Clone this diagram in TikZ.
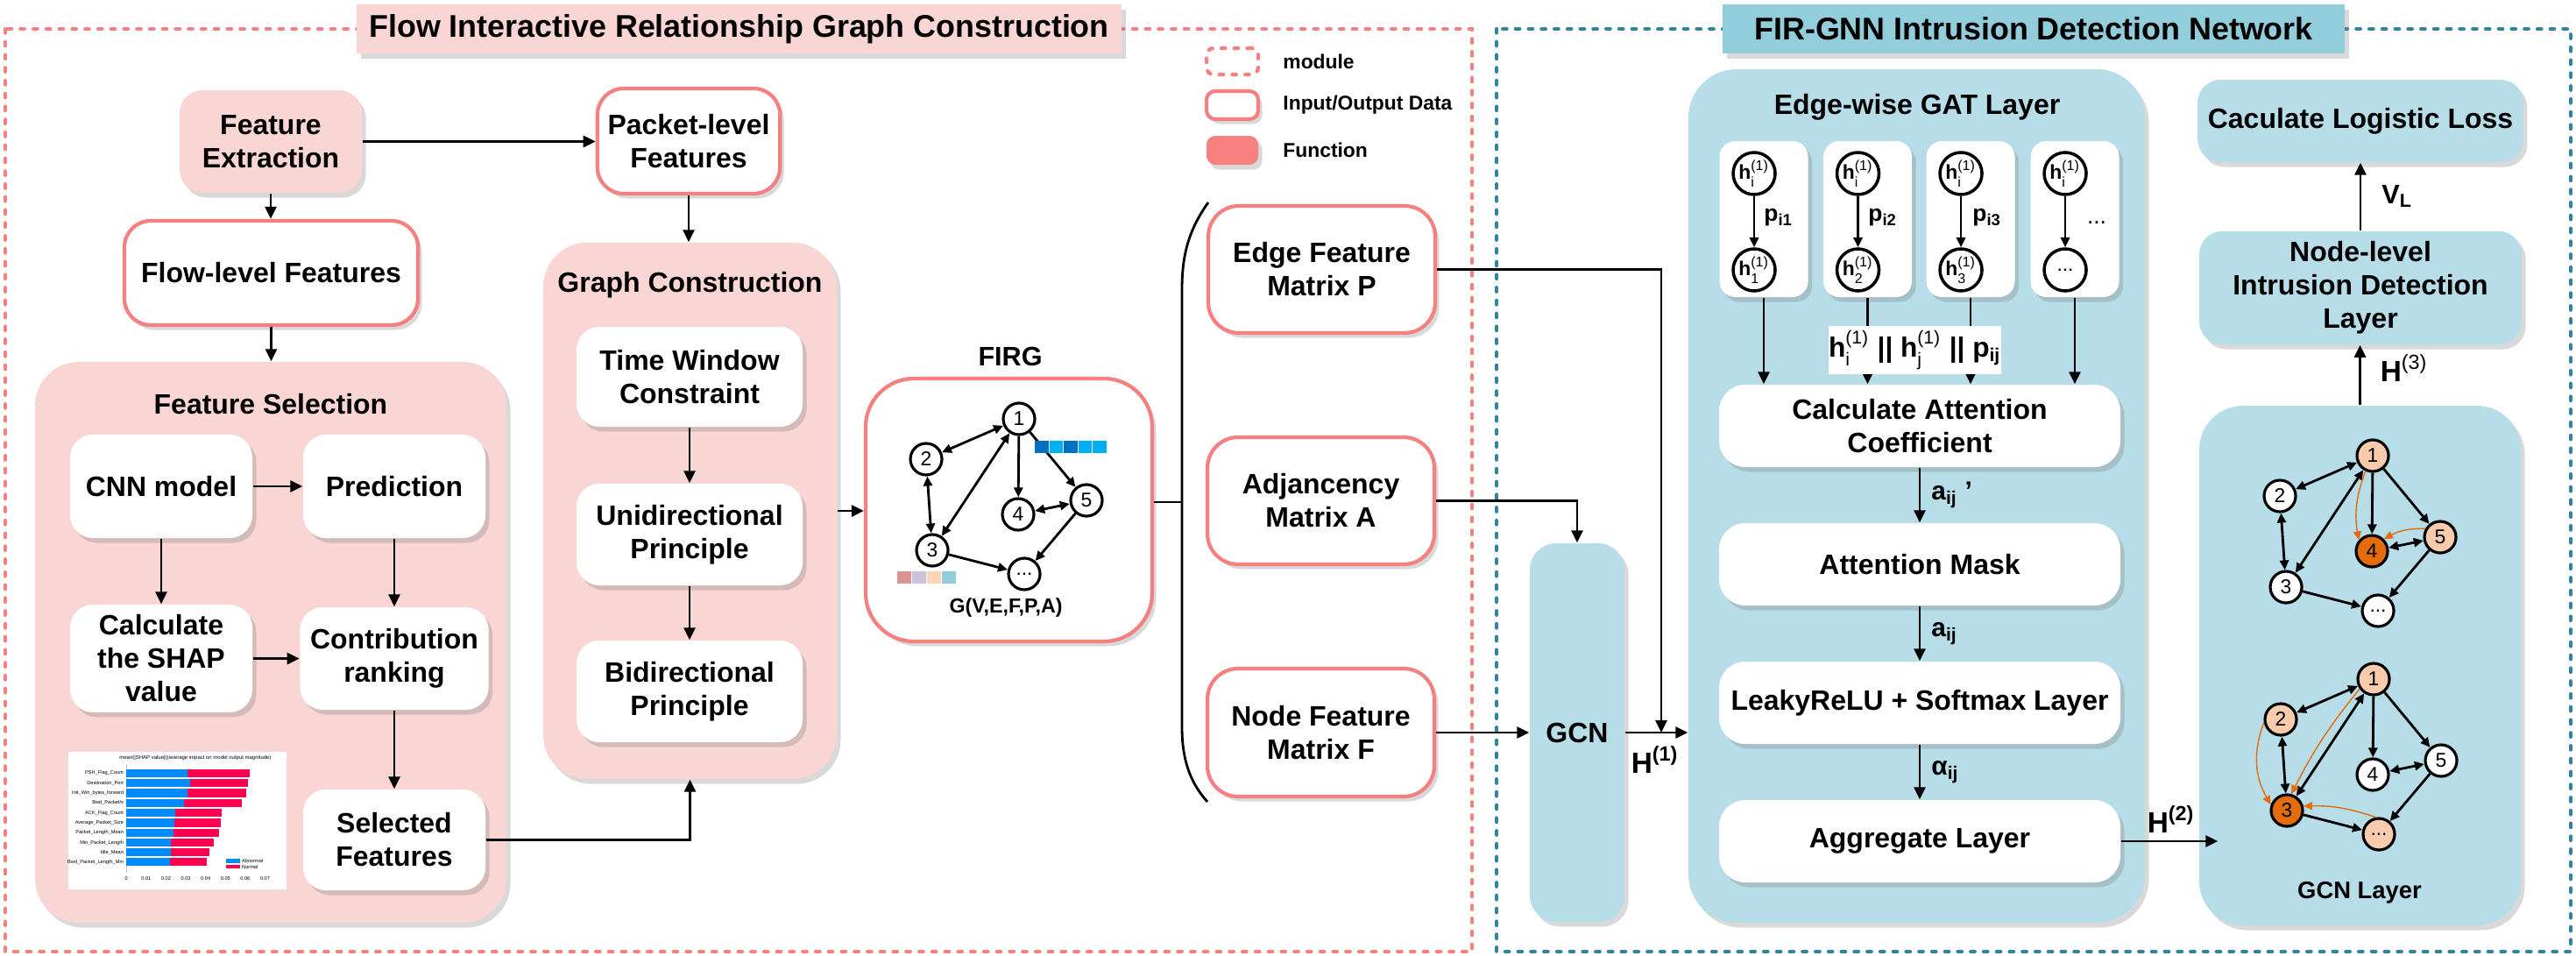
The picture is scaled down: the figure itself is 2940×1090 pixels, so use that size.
\documentclass[tikz,border=0pt]{standalone}
\usepackage{fontspec}
\setmainfont{Liberation Sans}
\usepackage{amsmath}
\usetikzlibrary{arrows.meta,shadows}

\definecolor{pinkline}{RGB}{245,128,128}
\definecolor{pinkfill}{RGB}{249,213,211}
\definecolor{funcfill}{RGB}{247,129,129}
\definecolor{tealline}{RGB}{49,132,155}
\definecolor{tealfill}{RGB}{146,205,220}
\definecolor{lblue}{RGB}{183,221,232}
\definecolor{peach}{RGB}{248,203,173}
\definecolor{dorange}{RGB}{228,108,10}
\definecolor{shapblue}{RGB}{0,139,251}
\definecolor{shapred}{RGB}{255,0,81}
\definecolor{sqdark}{RGB}{0,112,192}
\definecolor{sqlight}{RGB}{0,176,240}
\definecolor{pa}{RGB}{217,149,148}
\definecolor{pb}{RGB}{204,192,218}
\definecolor{pc}{RGB}{251,213,181}
\definecolor{pd}{RGB}{146,205,220}

\newcommand{\hsup}[1]{h$^{\text{\mdseries(1)}}_{\text{\mdseries #1}}$}
\newcommand{\lsub}[2]{#1$_{\text{#2}}$}

\begin{document}
\begin{tikzpicture}[
	x=0.1mm, y=-0.1mm,
	shad/.style={drop shadow={shadow xshift=0.45mm,shadow yshift=-0.55mm,opacity=0.3}},
	txt/.style={font=\bfseries\fontsize{9.1}{10.8}\selectfont,align=center},
	ttl/.style={shad,minimum height=5.6mm,inner sep=0pt,font=\bfseries\fontsize{10.2}{12}\selectfont},
	func/.style={txt,shad,fill=pinkfill,rounded corners=2.6mm},
	iodata/.style={txt,shad,fill=white,draw=pinkline,line width=1.2pt,rounded corners=3mm},
	cont/.style={shad,fill=pinkfill,rounded corners=5mm},
	bcont/.style={shad,fill=lblue,rounded corners=5.5mm},
	wbox/.style={txt,shad,fill=white,rounded corners=2.6mm},
	lbox/.style={txt,shad,fill=lblue,rounded corners=2.6mm},
	arr/.style={-{Triangle[length=1.4mm,width=1.3mm]},line width=0.8pt},
	garr/.style={-{Triangle[length=1.1mm,width=1mm]},line width=0.8pt},
	gbi/.style={{Triangle[length=1.1mm,width=1mm]}-{Triangle[length=1.1mm,width=1mm]},line width=0.8pt},
	oarr/.style={-{Triangle[length=1mm,width=0.9mm]},draw=dorange,line width=0.4pt},
	gnode/.style={circle,draw,line width=0.9pt,fill=white,minimum size=3.6mm,inner sep=0pt,font=\fontsize{6.5}{7}\selectfont},
	hnode/.style={circle,draw,line width=1pt,fill=white,minimum size=4.8mm,inner sep=0pt,font=\bfseries\fontsize{6.5}{7}\selectfont},
	lab/.style={font=\bfseries\fontsize{8.5}{10}\selectfont,inner sep=0pt},
	tiny/.style={inner sep=0pt,font=\fontsize{1.6}{2}\selectfont},
	pinkdash/.style={draw=pinkline,line width=1.2pt,line cap=round,dash pattern=on 1.3pt off 2.9pt},
	tealdash/.style={draw=tealline,line width=1.2pt,line cap=round,dash pattern=on 1.3pt off 2.9pt}
	]
	\useasboundingbox (0,0) rectangle (2940,1090);

	% module frames and titles
	\draw[pinkdash] (6,33) rectangle (1680,1086);
	\draw[tealdash] (1708,33) rectangle (2934,1086);
	\path (843.5,33) node[ttl,fill=pinkfill,minimum width=87.3mm] (titleL) {Flow Interactive Relationship Graph Construction};
	\path (2321,33) node[ttl,fill=tealfill,minimum width=71mm] (titleR) {FIR-GNN Intrusion Detection Network};

	% legend
	\path (1406.5,70) node[pinkdash,rounded corners=0.8mm,minimum width=5.9mm,minimum height=3mm] (lgmod) {};
	\path (1406.5,120) node[shad,fill=white,draw=pinkline,line width=1.2pt,rounded corners=1mm,minimum width=5.9mm,minimum height=3.2mm] (lgio) {};
	\path (1406.5,171.5) node[shad,fill=funcfill,rounded corners=1mm,minimum width=5.9mm,minimum height=3.3mm] (lgfun) {};
	\path (1452,70) node[anchor=west,font=\bfseries\fontsize{6.5}{8}\selectfont] (lgmodt) {module};
	\path (1452,120) node[anchor=west,font=\bfseries\fontsize{6.5}{8}\selectfont] (lgiot) {Input/Output Data};
	\path (1452,171.5) node[anchor=west,font=\bfseries\fontsize{6.5}{8}\selectfont] (lgfunt) {Function};

	% feature extraction part
	\path (309,161.5) node[func,minimum width=20.8mm,minimum height=11.7mm] (fe) {Feature\\Extraction};
	\path (786,161) node[iodata,minimum width=20.8mm,minimum height=12mm] (pkt) {Packet-level\\Features};
	\path (309.5,311.5) node[iodata,minimum width=33.5mm,minimum height=11.9mm] (flow) {Flow-level Features};
	\draw[arr] (fe.east) -- (fe.east -| pkt.west);
	\draw[arr] (fe.south) -- (fe.south |- flow.north);

	% feature selection
	\path (309,733) node[cont,minimum width=53.8mm,minimum height=64mm] (fs) {};
	\path (309,461) node[txt] (fstitle) {Feature Selection};
	\path (184,555) node[wbox,minimum width=20.8mm,minimum height=11.8mm] (cnn) {CNN model};
	\path (450,555) node[wbox,minimum width=20.8mm,minimum height=11.8mm] (pred) {Prediction};
	\path (184,751.5) node[wbox,minimum width=20.8mm,minimum height=11.7mm] (shap) {Calculate\\the SHAP\\value};
	\path (450,751.5) node[wbox,minimum width=20.8mm,minimum height=11.7mm] (contrib) {Contribution\\ranking};
	\path (450,958.5) node[wbox,minimum width=20.8mm,minimum height=11.5mm] (sel) {Selected\\Features};
	\draw[arr] (flow.south) -- (flow.south |- fs.north);
	\draw[arr] (cnn) -- (pred);
	\draw[arr] (cnn) -- (shap);
	\draw[arr] (pred) -- (contrib);
	\draw[arr] (shap) -- (contrib);
	\draw[arr] (contrib) -- (sel);

	% shap chart
	\fill[white] (78,858) rectangle (327,1015);
	\path (223,865) node[tiny,font=\fontsize{1.7}{2}\selectfont] (charttitle) {mean(|SHAP value|)(average impact on model output magnitude)};
	\draw[gray!50,line width=0.2pt] (144.3,872) -- (144.3,996);
	\foreach \yy/\bb/\rr/\nn [count=\i] in {882.3/214.3/285/{PSH\_Flag\_Count},893.7/216.7/282.7/{Destination\_Port},905/214.3/280.7/{Init\_Win\_bytes\_forward},916.3/210/276/{Bwd\_Packet/s},927.7/200/253.3/{ACK\_Flag\_Count},939/198.7/252.3/{Average\_Packet\_Size},950.3/197.7/250/{Packet\_Length\_Mean},961.7/195/244.3/{Min\_Packet\_Length},972.7/195/238.7/{Idle\_Mean},983.7/194/236.3/{Bwd\_Packet\_Length\_Min}}{
		\fill[shapblue] (144.3,\yy-4.6) rectangle (\bb,\yy+4.6);
		\fill[shapred] (\bb,\yy-4.6) rectangle (\rr,\yy+4.6);
		\path (141.7,\yy) node[tiny,anchor=east] (shapl\i) {\nn};
	}
	\foreach \k/\t in {0/0,1/0.01,2/0.02,3/0.03,4/0.04,5/0.05,6/0.06,7/0.07}
		\path (144.3+22.6*\k,1002.7) node[tiny] (tick\k) {\t};
	\fill[shapblue] (257.7,980) rectangle (274,984.7);
	\fill[shapred] (257.7,986.7) rectangle (274,991.3);
	\path (275.5,982.3) node[tiny,anchor=west] (lgab) {Abnormal};
	\path (275.5,989) node[tiny,anchor=west] (lgno) {Normal};

	% graph construction
	\path (787.5,583) node[cont,minimum width=33.5mm,minimum height=61.2mm] (gc) {};
	\path (787.5,325) node[txt] (gctitle) {Graph Construction};
	\path (787,430) node[wbox,minimum width=25.8mm,minimum height=11.4mm] (tw) {Time Window\\Constraint};
	\path (787,610) node[wbox,minimum width=25.8mm,minimum height=11.6mm] (uni) {Unidirectional\\Principle};
	\path (787,789) node[wbox,minimum width=25.8mm,minimum height=11.6mm] (bi) {Bidirectional\\Principle};
	\draw[arr] (pkt.south) -- (pkt.south |- gc.north);
	\draw[arr] (tw) -- (uni);
	\draw[arr] (uni) -- (bi);
	\draw[arr] (sel.east) -| (gc.south);

	% FIRG
	\path (1153,407) node[font=\bfseries\fontsize{8.7}{10}\selectfont] (firgt) {FIRG};
	\path (1151.5,582) node[iodata,rounded corners=5.5mm,minimum width=32.7mm,minimum height=30mm] (firg) {};
	\draw[arr] (gc.east) -- (gc.east -| firg.west);
	\path (1163,478) node[gnode] (f1) {1};
	\path (1057,524) node[gnode] (f2) {2};
	\path (1064,628) node[gnode] (f3) {3};
	\path (1162,587) node[gnode] (f4) {4};
	\path (1240,571) node[gnode] (f5) {5};
	\path (1169,655) node[gnode] (fd) {...};
	\draw[gbi] (f1) -- (f2);
	\draw[gbi] (f1) -- (f3);
	\draw[garr] (f1) -- (f4);
	\draw[garr] (f1) -- (f5);
	\draw[gbi] (f2) -- (f3);
	\draw[gbi] (f4) -- (f5);
	\draw[garr] (f3) -- (fd);
	\draw[garr] (f5) -- (fd);
	\foreach \i/\c in {0/sqdark,1/sqlight,2/sqdark,3/sqlight,4/sqlight}
		\fill[\c] (1181+16.5*\i,503) rectangle +(15.5,14);
	\foreach \i/\c in {0/pa,1/pb,2/pc,3/pd}
		\fill[\c] (1024+17*\i,652) rectangle +(16,14);
	\path (1148,693) node[font=\bfseries\fontsize{6.6}{8}\selectfont] (gname) {G(V,E,F,P,A)};

	% matrices
	\draw[line width=0.8pt] (1379,231) .. controls (1357,262) and (1349,290) .. (1349,330) -- (1349,830) .. controls (1349,870) and (1360,895) .. (1378,915);
	\coordinate (brace) at (1349,573);
	\draw[line width=0.8pt] (firg.east |- brace) -- (brace);
	\path (1508.5,307.5) node[iodata,rounded corners=3.5mm,minimum width=25.9mm,minimum height=14.5mm] (edgeP) {Edge Feature\\Matrix P};
	\path (1507.5,571.5) node[iodata,rounded corners=3.5mm,minimum width=25.9mm,minimum height=14.5mm] (adjA) {Adjancency\\Matrix A};
	\path (1507.5,836) node[iodata,rounded corners=3.5mm,minimum width=25.9mm,minimum height=14.6mm] (nodeF) {Node Feature\\Matrix F};

	% GCN
	\path (1800,836) node[lbox,rounded corners=3mm,minimum width=10.8mm,minimum height=43.2mm] (gcn) {GCN};
	\draw[arr] (adjA.east) -| (gcn.north);
	\draw[arr] (nodeF.east) -- (gcn.west);

	% edge-wise GAT layer
	\path (2187.5,566) node[bcont,minimum width=52.1mm,minimum height=97.4mm] (gat) {};
	\path (2188,122) node[txt] (gattitle) {Edge-wise GAT Layer};
	\draw[arr] (gcn.east) -- (gcn.east -| gat.west);
	\path (1889,867) node[lab,font=\bfseries\fontsize{9.5}{11}\selectfont] (h1) {H$^{\text{(1)}}$};
	\coordinate (hjoin) at (1896,836);
	\draw[arr] (edgeP.east) -| (hjoin);

	\path (2013,250) node[wbox,rounded corners=1.8mm,minimum width=10.1mm,minimum height=17.8mm] (sb1) {};
	\path (2131.5,250) node[wbox,rounded corners=1.8mm,minimum width=10.1mm,minimum height=17.8mm] (sb2) {};
	\path (2249,250) node[wbox,rounded corners=1.8mm,minimum width=10.1mm,minimum height=17.8mm] (sb3) {};
	\path (2368,250) node[wbox,rounded corners=1.8mm,minimum width=10.1mm,minimum height=17.8mm] (sb4) {};
	\path (2002,198) node[hnode] (t1) {\hsup{i}};
	\path (2120.5,198) node[hnode] (t2) {\hsup{i}};
	\path (2238,198) node[hnode] (t3) {\hsup{i}};
	\path (2357,198) node[hnode] (t4) {\hsup{i}};
	\path (2002,308) node[hnode] (u1) {\hsup{1}};
	\path (2120.5,308) node[hnode] (u2) {\hsup{2}};
	\path (2238,308) node[hnode] (u3) {\hsup{3}};
	\path (2357,308) node[hnode] (u4) {\mdseries ...};
	\draw[garr] (t1) -- (u1);
	\draw[garr] (t2) -- (u2);
	\draw[garr] (t3) -- (u3);
	\draw[garr] (t4) -- (u4);
	\path (2030,248) node[lab,font=\bfseries\fontsize{7.5}{9}\selectfont] (p1) {\lsub{p}{i1}};
	\path (2149,248) node[lab,font=\bfseries\fontsize{7.5}{9}\selectfont] (p2) {\lsub{p}{i2}};
	\path (2268,248) node[lab,font=\bfseries\fontsize{7.5}{9}\selectfont] (p3) {\lsub{p}{i3}};
	\path (2393,254) node[lab,font=\fontsize{7.5}{9}\selectfont] (p4) {...};

	\path (2191,486) node[wbox,rounded corners=3mm,minimum width=45.8mm,minimum height=9.4mm] (cac) {Calculate Attention\\Coefficient};
	\path (2191,644) node[wbox,rounded corners=3mm,minimum width=45.8mm,minimum height=9.4mm] (mask) {Attention Mask};
	\path (2191,802) node[wbox,rounded corners=3mm,minimum width=45.8mm,minimum height=9.4mm] (leaky) {LeakyReLU + Softmax Layer};
	\path (2191,960) node[wbox,rounded corners=3mm,minimum width=45.8mm,minimum height=9.4mm] (agg) {Aggregate Layer};
	\draw[arr] (sb1.south) -- (sb1.south |- cac.north);
	\draw[arr] (sb2.south) -- (sb2.south |- cac.north);
	\draw[arr] (sb3.south) -- (sb3.south |- cac.north);
	\draw[arr] (sb4.south) -- (sb4.south |- cac.north);
	\path (2185.5,399.5) node[fill=white,minimum width=16.7mm,minimum height=5.5mm,inner sep=0pt,font=\bfseries\fontsize{9}{10}\selectfont] (cat) {\hsup{i} || \hsup{j} || \lsub{p}{ij}};
	\draw[arr] (cac) -- node[lab,right,xshift=1.2mm] (aij1) {a$_{\text{ij}}$ '} (mask);
	\draw[arr] (mask) -- node[lab,right,xshift=1.2mm] (aij2) {a$_{\text{ij}}$} (leaky);
	\draw[arr] (leaky) -- node[lab,right,xshift=1.2mm] (alij) {α$_{\text{ij}}$} (agg);

	% GCN layer and detection
	\path (2693.5,759.5) node[bcont,rounded corners=5mm,minimum width=36.7mm,minimum height=59.3mm] (gcnl) {};
	\path (2693,1019) node[font=\bfseries\fontsize{7.8}{9}\selectfont] (gcnlt) {GCN Layer};
	\draw[arr,shorten >=-2.2mm] (agg.east) -- (agg.east -| gcnl.west);
	\path (2478,935) node[lab,font=\bfseries\fontsize{9.5}{11}\selectfont] (h2) {H$^{\text{(2)}}$};
	\path (2694,138) node[lbox,minimum width=36.8mm,minimum height=9.4mm] (cll) {Caculate Logistic Loss};
	\path (2694,328.5) node[lbox,minimum width=36.8mm,minimum height=12.3mm] (nl) {Node-level\\Intrusion Detection\\Layer};
	\draw[arr] (gcnl.north) -- (gcnl.north |- nl.south);
	\draw[arr] (nl) -- (cll);
	\path (2744,420) node[lab,font=\bfseries\fontsize{9.5}{11}\selectfont] (h3) {H$^{\text{\mdseries(3)}}$};
	\path (2736,224) node[lab,font=\bfseries\fontsize{8.7}{10}\selectfont] (vl) {V$_{\text{L}}$};

	% graph after first aggregation
	\begin{scope}[shift={(1545,42)}]
		\path (1163,478) node[gnode,fill=peach] (a1) {1};
		\path (1057,524) node[gnode] (a2) {2};
		\path (1064,628) node[gnode] (a3) {3};
		\path (1162,587) node[gnode,fill=dorange] (a4) {4};
		\path (1240,571) node[gnode,fill=peach] (a5) {5};
		\path (1169,655) node[gnode] (ad) {...};
		\draw[gbi] (a1) -- (a2);
		\draw[gbi] (a1) -- (a3);
		\draw[garr] (a1) -- (a4);
		\draw[garr] (a1) -- (a5);
		\draw[gbi] (a2) -- (a3);
		\draw[gbi] (a4) -- (a5);
		\draw[garr] (a3) -- (ad);
		\draw[garr] (a5) -- (ad);
		\draw[oarr] (a1.245) to[bend right=15] (a4.140);
		\draw[oarr] (a5.150) to[bend right=15] (a4.45);
	\end{scope}

	% graph after second aggregation
	\begin{scope}[shift={(1546,297)}]
		\path (1163,478) node[gnode,fill=peach] (b1) {1};
		\path (1057,524) node[gnode,fill=peach] (b2) {2};
		\path (1064,628) node[gnode,fill=dorange] (b3) {3};
		\path (1162,587) node[gnode] (b4) {4};
		\path (1240,571) node[gnode] (b5) {5};
		\path (1169,655) node[gnode,fill=peach] (bd) {...};
		\draw[gbi] (b1) -- (b2);
		\draw[gbi] (b1) -- (b3);
		\draw[garr] (b1) -- (b4);
		\draw[garr] (b1) -- (b5);
		\draw[gbi] (b2) -- (b3);
		\draw[gbi] (b4) -- (b5);
		\draw[garr] (b3) -- (bd);
		\draw[garr] (b5) -- (bd);
		\draw[oarr] (b2.190) to[bend right=25] (b3.160);
		\draw[oarr] (b1.215) to[bend right=6] (b3.75);
		\draw[oarr] (bd.100) to[bend right=10] (b3.15);
	\end{scope}

\end{tikzpicture}
\end{document}
